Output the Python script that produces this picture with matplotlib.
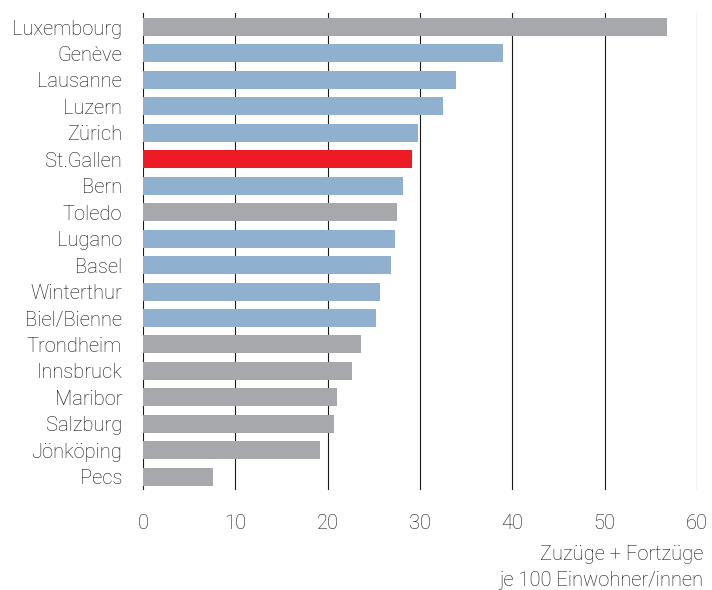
import matplotlib.pyplot as plt

# Cities and moves (Zuzüge + Fortzüge per 100 inhabitants)
cities = ["Luxembourg", "Genève", "Lausanne", "Luzern", "Zürich", "St.Gallen",
          "Bern", "Toledo", "Lugano", "Basel", "Winterthur", "Biel/Bienne",
          "Trondheim", "Innsbruck", "Maribor", "Salzburg", "Jönköping", "Pecs"]
values = [56.7, 39.0, 33.9, 32.5, 29.8, 29.1, 28.2, 27.5, 27.3, 26.9,
          25.7, 25.2, 23.6, 22.6, 21.0, 20.7, 19.2, 7.6]
group = ["int", "ch", "ch", "ch", "ch", "sg", "ch", "int", "ch", "ch",
         "ch", "ch", "int", "int", "int", "int", "int", "int"]

colors = {"int": "#a7a8ab", "ch": "#8fb0cf", "sg": "#ed1c24"}

plt.rcParams['font.family'] = ['Roboto', 'DejaVu Sans']
plt.rcParams['font.weight'] = 'light'

fig = plt.figure(figsize=(7.12, 5.9), dpi=100)
ax = fig.add_axes([143 / 712, 1 - 490 / 590, (697 - 143) / 712, (490 - 13) / 590])

pos = list(range(len(cities)))
ax.barh(pos, values, height=0.68, color=[colors[g] for g in group], zorder=3)

ax.set_xlim(0, 60)
ax.set_ylim(17.5, -0.53)
ax.set_xticks(range(0, 61, 10))
ax.set_yticks(pos)
ax.set_yticklabels(cities, fontsize=14.5, color="#111111")
for s in ax.spines.values():
    s.set_visible(False)
ax.tick_params(axis="both", length=0)
ax.tick_params(axis="y", pad=15)
ax.tick_params(axis="x", pad=17, labelsize=14.5, labelcolor="#111111")
ax.grid(axis="x", color="#1a1a1a", linewidth=0.8, zorder=0)

fig.text(703 / 712, 1 - 555 / 590, "Zuzüge + Fortzüge", ha="right", va="center",
         fontsize=14.5, color="#111111")
fig.text(703 / 712, 1 - 580 / 590, "je 100 Einwohner/innen", ha="right", va="center",
         fontsize=14.5, color="#111111")

plt.savefig("out.png", dpi=100)
